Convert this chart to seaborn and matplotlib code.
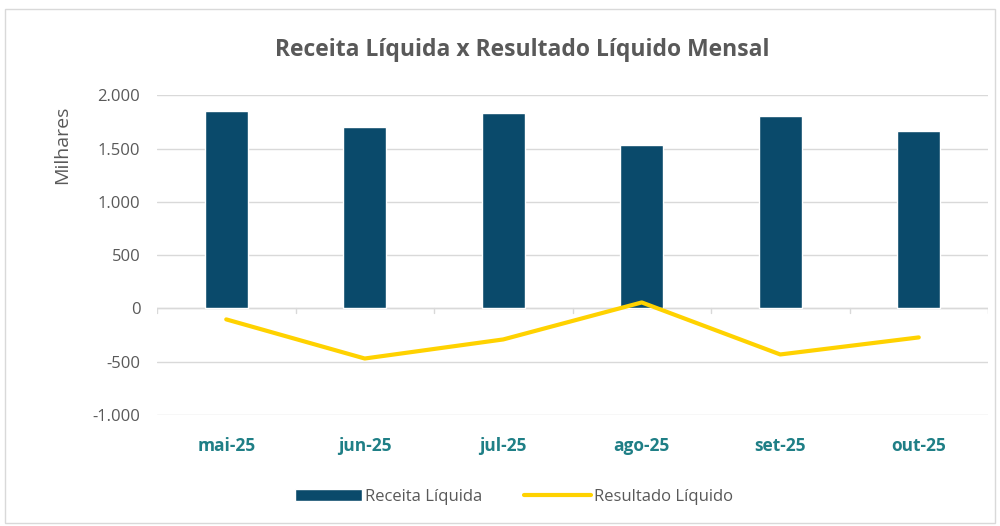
import pandas as pd
import matplotlib.pyplot as plt
import seaborn as sns
from matplotlib.patches import Rectangle

# Data (in thousands)
months = ['mai-25', 'jun-25', 'jul-25', 'ago-25', 'set-25', 'out-25']
receita = [1850, 1700, 1831, 1530, 1803, 1662]
resultado = [-103, -470, -291, 56, -432, -272]

df = pd.DataFrame({'mes': months, 'receita': receita, 'resultado': resultado})

sns.set_style("white")
plt.rcParams['font.family'] = ['Open Sans', 'DejaVu Sans']

bar_color = '#0A4A6B'
line_color = '#FFD200'
text_gray = '#595959'

fig = plt.figure(figsize=(10, 5.26), dpi=100)
ax = fig.add_axes([0.157, 0.211, 0.831, 0.608])

# Bars and line
sns.barplot(x='mes', y='receita', data=df, color=bar_color, width=0.31,
            saturation=1, ax=ax, label='Receita Líquida', zorder=2)
sns.lineplot(x=range(len(months)), y=df['resultado'], color=line_color,
             linewidth=3, ax=ax, label='Resultado Líquido', zorder=3)

ax.set_ylim(-1000, 2000)
ax.set_xlim(-0.5, len(months) - 0.5)
ax.set_yticks(range(-1000, 2001, 500))
ax.set_yticklabels([f'{v:,}'.replace(',', '.') for v in range(-1000, 2001, 500)],
                   color=text_gray, fontsize=12)
ax.grid(axis='y', color='#D9D9D9', linewidth=1, zorder=0)
ax.axhline(0, color='#D9D9D9', linewidth=1, zorder=1)
for s in ax.spines.values():
    s.set_visible(False)
ax.tick_params(axis='y', length=0, pad=12)
ax.tick_params(axis='x', length=0, pad=16)
ax.set_xticks(range(len(months)))
ax.set_xticklabels(months, color='#1F7F86', fontsize=12.5, fontweight='bold')
ax.set_xlabel('')
ax.set_ylabel('Milhares', color=text_gray, fontsize=14)
ax.yaxis.set_label_coords(-0.103, 0.845)

# small tick marks on the zero line between categories
for i in range(len(months) + 1):
    ax.plot([i - 0.5, i - 0.5], [0, -40], color='#D9D9D9', linewidth=1, zorder=1)

fig.suptitle('Receita Líquida x Resultado Líquido Mensal', x=0.522, y=0.928,
             fontsize=16.5, fontweight='bold', color=text_gray)

handles, labels = ax.get_legend_handles_labels()
order = [labels.index('Receita Líquida'), labels.index('Resultado Líquido')]
ax.legend([handles[i] for i in order], [labels[i] for i in order],
          loc='center', bbox_to_anchor=(0.43, -0.255),
          ncol=2, frameon=False, fontsize=12, labelcolor=text_gray,
          handlelength=4, handletextpad=0.2, columnspacing=2.5)

# outer chart border
fig.patches.append(Rectangle((0.005, 0.005), 0.99, 0.978, transform=fig.transFigure,
                             fill=False, edgecolor='#D9D9D9', linewidth=1))

plt.savefig('out.png', dpi=100)
